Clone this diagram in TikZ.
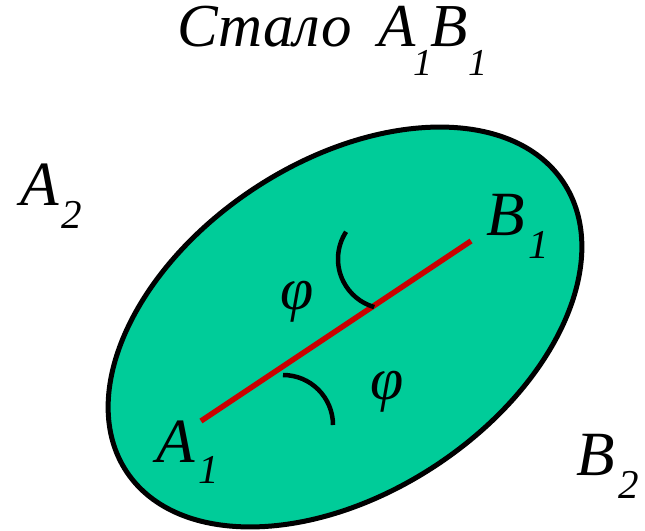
\documentclass[tikz,border=0pt]{standalone}
\usepackage{fontspec}
\setmainfont{Liberation Serif}
\usetikzlibrary{calc}
\begin{document}
\begin{tikzpicture}[x=1pt,y=-1pt,
  lbl/.style={inner sep=0pt,outer sep=0pt,anchor=base west,font=\itshape\fontsize{63}{63}\selectfont},
  sublbl/.style={inner sep=0pt,outer sep=0pt,anchor=base west,font=\itshape\fontsize{41}{41}\selectfont},
  ttl/.style={inner sep=0pt,outer sep=0pt,anchor=base west,text height=40pt,text depth=1pt,font=\itshape\fontsize{61}{61}\selectfont},
  ttlsub/.style={inner sep=0pt,outer sep=0pt,anchor=base west,text height=26pt,text depth=0pt,font=\itshape\fontsize{38}{38}\selectfont},
  phil/.style={inner sep=0pt,outer sep=0pt,font=\itshape\fontsize{60}{60}\selectfont},
  arcmark/.style={line width=4.5pt}]
\definecolor{fillgreen}{RGB}{0,204,153}
\definecolor{segred}{RGB}{204,0,0}
\useasboundingbox (0,0) rectangle (645,530);
% ellipse
\coordinate (c) at (345,327);
\filldraw[fill=fillgreen,draw=black,line width=5pt,rotate around={33.5:(c)}]
  (c) ellipse [x radius=262pt, y radius=165.6pt];
% segment A1B1
\coordinate (a1) at (201,421);
\coordinate (b1) at (471,241);
\draw[segred,line width=5.5pt] (a1) -- (b1);
% angle marks
\coordinate (u0) at (388,259);
\coordinate (l0) at (283,425);
\draw[arcmark] ($(u0)+(147:50pt)$) arc[start angle=147,end angle=254,radius=50pt];
\draw[arcmark] ($(l0)+(90:50pt)$) arc[start angle=90,end angle=0,radius=50pt];
% phi labels
\node[phil] (phi1) at (297,302) {φ};
\node[phil] (phi2) at (387,392) {φ};
% title
\node[ttl] (t1) at (177,46) {Стало};
\node[ttl] (t2) at (378,46) {A};
\node[ttlsub] (t3) at (413,75) {1};
\node[ttl] (t4) at (430,46) {B};
\node[ttlsub] (t5) at (468,75) {1};
% labels
\node[lbl] (A2) at (20,205) {A};
\node[sublbl] (A2s) at (61,228) {2};
\node[lbl] (A1) at (156,462) {A};
\node[sublbl] (A1s) at (198,483) {1};
\node[lbl] (B1) at (486,235) {B};
\node[sublbl] (B1s) at (528,258) {1};
\node[lbl] (B2) at (576,475) {B};
\node[sublbl] (B2s) at (618,498) {2};
\end{tikzpicture}
\end{document}
